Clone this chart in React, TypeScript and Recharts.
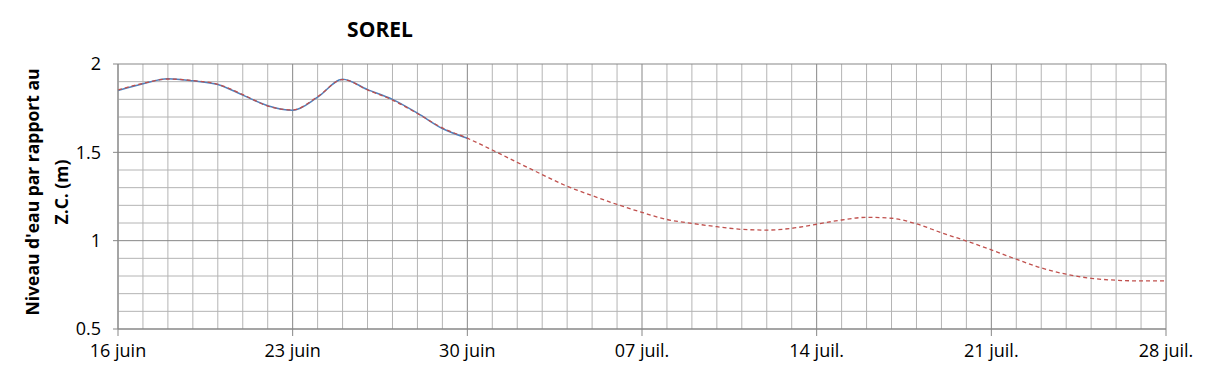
import { LineChart, Line, XAxis, YAxis, ReferenceLine } from 'recharts';

// days since 16 juin
const days = Array.from({ length: 43 }, (_, i) => i);

const tickDays = [0, 7, 14, 21, 28, 35, 42];
const tickLabels = ['16 juin', '23 juin', '30 juin', '07 juil.', '14 juil.', '21 juil.', '28 juil.'];

const yTicks = [0.5, 1, 1.5, 2];
const yGrid = [0.5, 0.6, 0.7, 0.8, 0.9, 1, 1.1, 1.2, 1.3, 1.4, 1.5, 1.6, 1.7, 1.8, 1.9, 2];

// prévision (rouge pointillé)
const predicted = [
  1.853, 1.89, 1.915, 1.906, 1.885, 1.827, 1.762, 1.74, 1.815, 1.912, 1.853, 1.796, 1.72, 1.638,
  1.58, 1.513, 1.443, 1.374, 1.308, 1.255, 1.205, 1.16, 1.12, 1.098, 1.079, 1.064, 1.06, 1.07,
  1.093, 1.117, 1.132, 1.127, 1.095, 1.045, 0.998, 0.948, 0.895, 0.846, 0.81, 0.787, 0.776, 0.772,
  0.772,
];

// observé (bleu)
const observed = [
  1.85, 1.888, 1.917, 1.905, 1.884, 1.824, 1.764, 1.738, 1.812, 1.914, 1.855, 1.8, 1.722, 1.635,
  1.58,
];

const data = days.map((d, i) => ({
  day: d,
  pred: predicted[i],
  obs: i < observed.length ? observed[i] : null,
}));

const font = '"Open Sans", sans-serif';
const minor = '#b4b4b4';
const major = '#878787';

export default function App() {
  return (
    <div style={{ position: 'absolute', left: 0, top: 0, width: 1209, height: 378, background: '#fff', fontFamily: font }}>
      <div style={{ position: 'absolute', left: 0, top: 15, width: 760, textAlign: 'center', fontWeight: 700, fontSize: 21 }}>
        SOREL
      </div>
      <div
        style={{
          position: 'absolute',
          left: 47,
          top: 192,
          width: 300,
          transform: 'translate(-50%, -50%) rotate(-90deg)',
          textAlign: 'center',
          fontWeight: 700,
          fontSize: 17.5,
          lineHeight: '29px',
        }}
      >
        Niveau d'eau par rapport au
        <br />
        Z.C. (m)
      </div>
      <LineChart width={1209} height={378} data={data} margin={{ top: 64, right: 43, bottom: 10, left: 58 }}>
        {days.map((d) => (
          <ReferenceLine key={'v' + d} x={d} stroke={d % 7 === 0 ? major : minor} strokeWidth={1} />
        ))}
        {yGrid.map((v) => (
          <ReferenceLine
            key={'h' + v}
            y={v}
            stroke={Math.abs(v * 2 - Math.round(v * 2)) < 1e-6 ? major : minor}
            strokeWidth={1}
          />
        ))}
        <XAxis
          dataKey="day"
          type="number"
          domain={[0, 42]}
          ticks={tickDays}
          tickFormatter={(v: number) => tickLabels[tickDays.indexOf(v)]}
          height={39}
          stroke={major}
          tickSize={7}
          tickMargin={8}
          tick={{ fill: '#000', fontSize: 18, fontFamily: font }}
          interval={0}
        />
        <YAxis
          type="number"
          domain={[0.5, 2]}
          ticks={yTicks}
          width={60}
          stroke={major}
          tickSize={5}
          tickMargin={12}
          tick={{ fill: '#000', fontSize: 18, fontFamily: font }}
          interval={0}
        />
        <Line
          dataKey="obs"
          type="monotone"
          stroke="#4f81bd"
          strokeWidth={1.5}
          dot={false}
          isAnimationActive={false}
          connectNulls={false}
        />
        <Line
          dataKey="pred"
          type="monotone"
          stroke="#c0504d"
          strokeWidth={1.3}
          strokeDasharray="4 3"
          dot={false}
          isAnimationActive={false}
        />
      </LineChart>
    </div>
  );
}
